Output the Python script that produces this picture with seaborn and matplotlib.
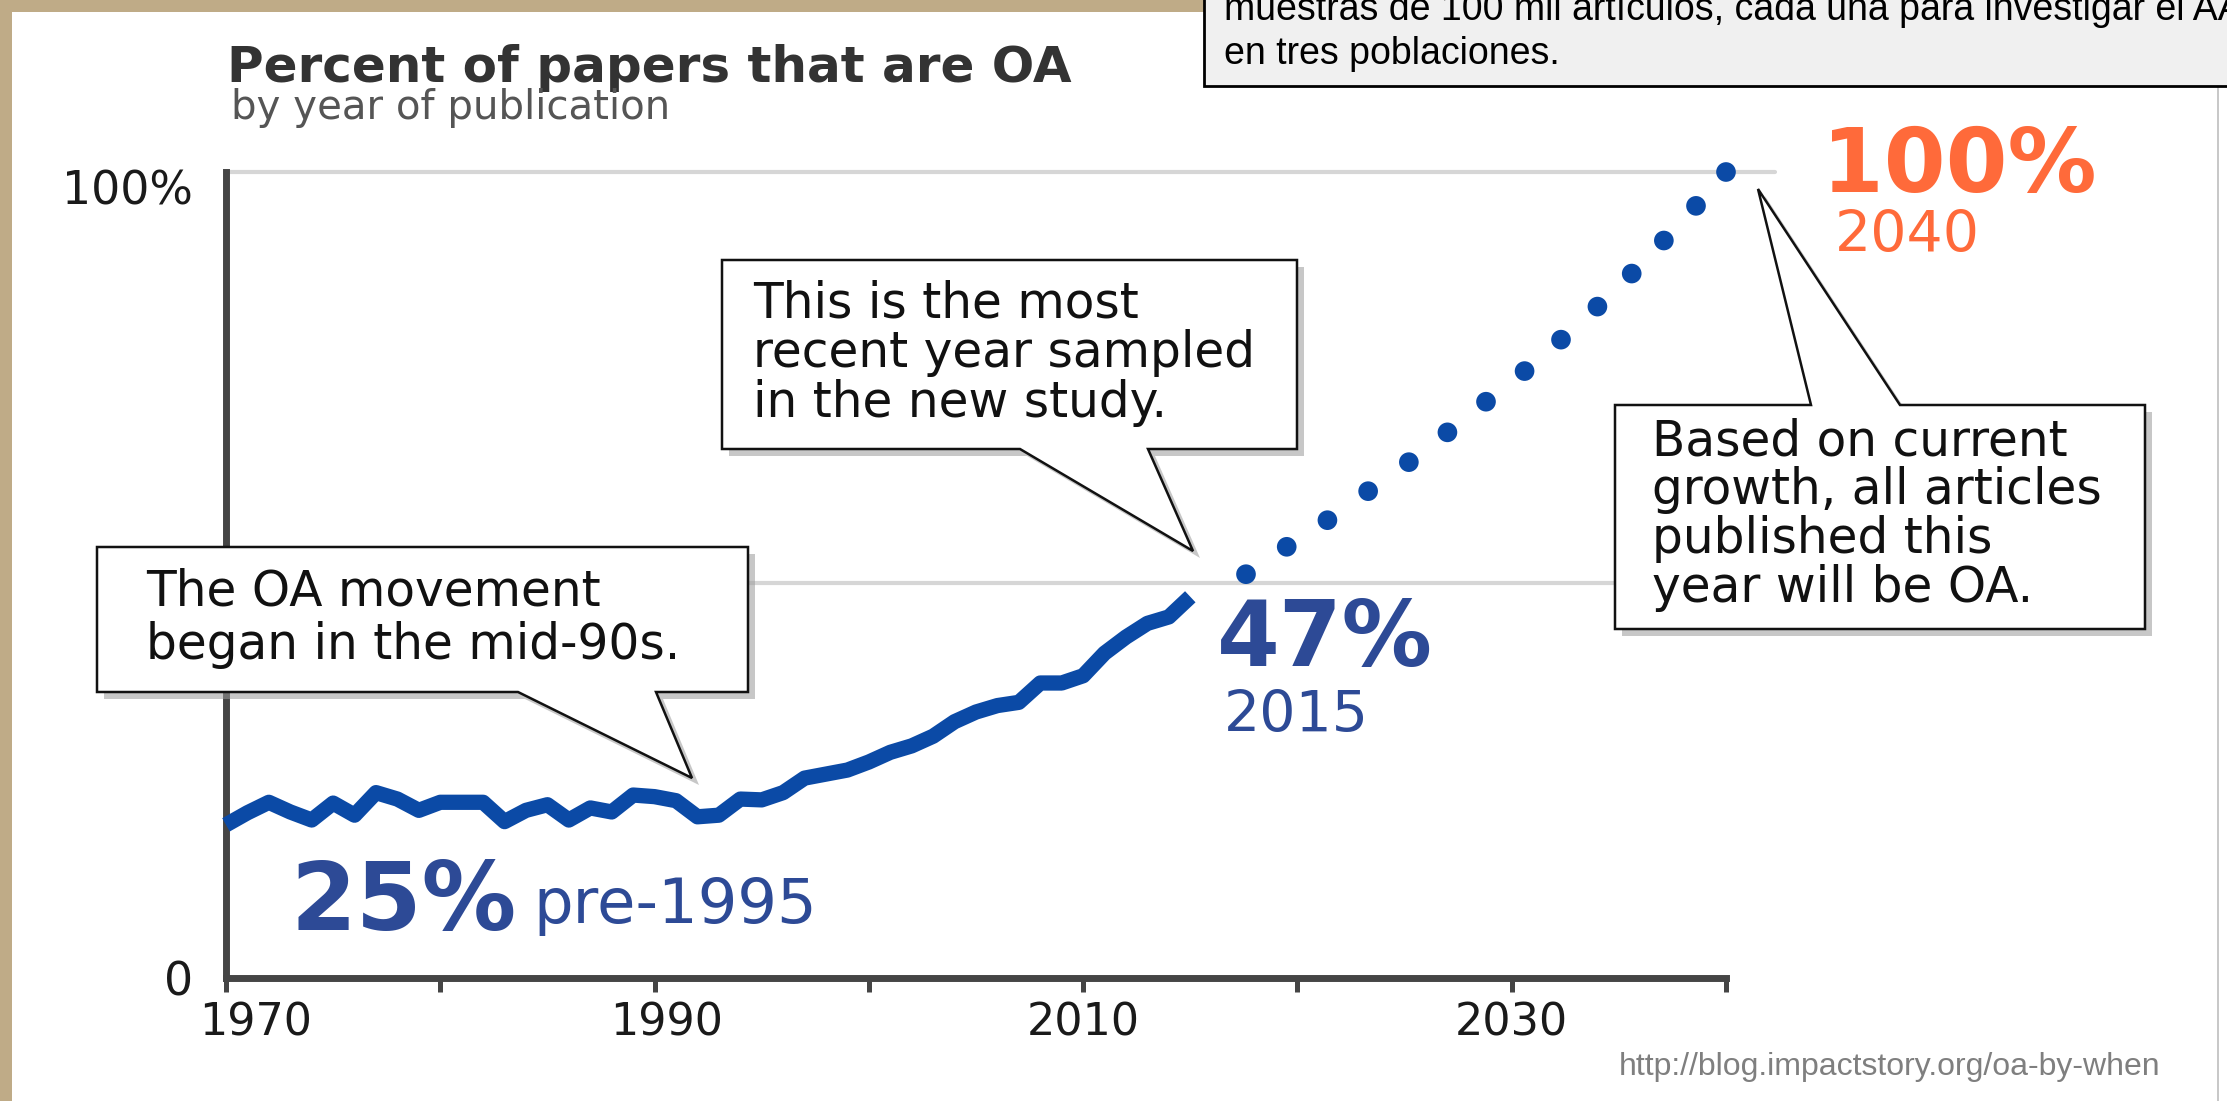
"""
Porcentaje de artículos en acceso abierto (OA) por año de publicación,
con la proyección al 100 % en 2040.
"""
import numpy as np
import pandas as pd
import matplotlib
matplotlib.use('Agg')
import matplotlib.pyplot as plt
from matplotlib.patches import Polygon, Rectangle
from matplotlib.transforms import Affine2D
import seaborn as sns

sns.set_theme(style='white')
plt.rcParams['font.family'] = ['DejaVu Sans']

# ─────────────────────────────────────────────
# Datos
# ─────────────────────────────────────────────
years_obs = list(range(1970, 2016))
pct_obs = [19.0, 20.5, 21.8, 20.6, 19.6, 21.7, 20.2, 23.0, 22.2, 20.8,
           21.8, 21.8, 21.8, 19.4, 20.8, 21.5, 19.6, 21.1, 20.6, 22.7,
           22.5, 22.0, 20.0, 20.2, 22.2, 22.1, 23.0, 24.8, 25.3, 25.8,
           26.8, 28.0, 28.8, 30.0, 31.8, 33.0, 33.8, 34.2, 36.6, 36.6,
           37.5, 40.3, 42.3, 44.0, 44.8, 47.3]

years_proj = [2017.6, 2019.5, 2021.4, 2023.3, 2025.2, 2027.0, 2028.8,
              2030.6, 2032.3, 2034.0, 2035.6, 2037.1, 2038.6, 2040.0]
pct_proj = [50.1, 53.5, 56.8, 60.4, 64.0, 67.7, 71.5,
            75.3, 79.2, 83.3, 87.4, 91.5, 95.8, 100.0]

x_ticks = [1970, 1980, 1990, 2000, 2010, 2020, 2030, 2040]
x_ticklabels = ['1970', '', '1990', '', '2010', '', '2030', '']
y_ticks = [0, 100]
y_ticklabels = ['0', '100%']
ref_lines = [100, 49]          # líneas grises de referencia
ref_line_end = [2042.3, 2036]  # hasta dónde llega cada una

df_obs = pd.DataFrame({'year': years_obs, 'pct': pct_obs})
df_proj = pd.DataFrame({'year': years_proj, 'pct': pct_proj})

BLUE_LINE = '#0b4aa6'
BLUE_TXT = '#2d4a96'
ORANGE = '#ff6a3a'
AXIS = '#454545'

W, H = 2227, 1101
fig = plt.figure(figsize=(W / 100, H / 100), dpi=100)
fig.patch.set_facecolor('#bfab87')
pix = Affine2D().scale(1 / W, -1 / H).translate(0, 1) + fig.transFigure

# panel blanco + borde derecho
fig.patches.append(Rectangle((12, 12), W, H, transform=pix, fc='white', ec='none', zorder=-10))
fig.patches.append(Rectangle((2217, 86), 2, H, transform=pix, fc='#c8c8c8', ec='none', zorder=-9))

ax = fig.add_axes([226 / W, 1 - 978 / H, 1500 / W, 806 / H])
ax.set_facecolor('none')

# líneas de referencia
for yv, xe in zip(ref_lines, ref_line_end):
    ax.axhline(yv, xmin=0, xmax=(xe - 1970) / 70, color='#d6d6d6', lw=3, zorder=1, clip_on=False)

sns.lineplot(data=df_obs, x='year', y='pct', color=BLUE_LINE, linewidth=11, ax=ax,
             zorder=3, clip_on=False, solid_joinstyle='round', solid_capstyle='butt')
sns.scatterplot(data=df_proj, x='year', y='pct', color=BLUE_LINE, s=200, edgecolor='none',
                ax=ax, zorder=3, clip_on=False)

ax.set_xlim(1970, 2040)
ax.set_ylim(0, 100)
ax.set_xlabel('')
ax.set_ylabel('')
for s in ['top', 'right']:
    ax.spines[s].set_visible(False)
for s in ['left', 'bottom']:
    ax.spines[s].set_color(AXIS)
    ax.spines[s].set_linewidth(5)
    ax.spines[s].set_capstyle('projecting')

ax.set_xticks(x_ticks)
ax.set_xticklabels(x_ticklabels)
ax.set_yticks(y_ticks)
ax.set_yticklabels(y_ticklabels)
ax.tick_params(axis='x', bottom=True, direction='out', length=10, width=3.6, color=AXIS,
               labelsize=32, labelcolor='#1a1a1a', pad=7)
ax.tick_params(axis='y', left=False, length=0, labelsize=33, labelcolor='#1a1a1a', pad=24)
lbl100 = ax.get_yticklabels()[1]
lbl100.set_transform(lbl100.get_transform() + Affine2D().translate(0, -15))
lbl1970 = ax.get_xticklabels()[0]
lbl1970.set_transform(lbl1970.get_transform() + Affine2D().translate(30, 0))
lbl1990 = ax.get_xticklabels()[2]
lbl1990.set_transform(lbl1990.get_transform() + Affine2D().translate(12, 0))

# ─────────────────────────────────────────────
# Títulos y etiquetas grandes
# ─────────────────────────────────────────────
fig.text(227, 82, 'Percent of papers that are OA', transform=pix, fontsize=36,
         fontweight='bold', color='#333333', va='baseline')
fig.text(231, 119, 'by year of publication', transform=pix, fontsize=29,
         color='#555555', va='baseline')

fig.text(291, 930, '25%', transform=pix, fontsize=68, fontweight='bold', color=BLUE_TXT, va='baseline')
fig.text(533, 923, 'pre-1995', transform=pix, fontsize=45, color=BLUE_TXT, va='baseline')
fig.text(1217, 666, '47%', transform=pix, fontsize=65, fontweight='bold', color=BLUE_TXT, va='baseline')
fig.text(1224, 732, '2015', transform=pix, fontsize=41, color=BLUE_TXT, va='baseline')
fig.text(1822, 192, '100%', transform=pix, fontsize=64, fontweight='bold', color=ORANGE, va='baseline')
fig.text(1835, 252, '2040', transform=pix, fontsize=41, color=ORANGE, va='baseline')


# ─────────────────────────────────────────────
# Globos de texto
# ─────────────────────────────────────────────
def callout(box, base, tip, lines, text_xy, step, side='bottom'):
    x0, y0, x1, y1 = box
    if side == 'bottom':
        pts = [(x0, y0), (x1, y0), (x1, y1), (base[1], y1), tip, (base[0], y1), (x0, y1)]
    else:
        pts = [(x0, y0), (base[0], y0), tip, (base[1], y0), (x1, y0), (x1, y1), (x0, y1)]
    shadow = [(px + 7, py + 7) for px, py in pts]
    fig.patches.append(Polygon(shadow, closed=True, transform=pix, fc='#9a9a9a', ec='none',
                               alpha=0.55, zorder=4))
    fig.patches.append(Polygon(pts, closed=True, transform=pix, fc='white', ec='#111111',
                               lw=1.8, joinstyle='miter', zorder=5))
    for i, t in enumerate(lines):
        fig.text(text_xy[0], text_xy[1] + i * step, t, transform=pix, fontsize=35,
                 color='#111111', va='center', zorder=6)


callout((97, 547, 748, 692), (518, 656), (692, 778),
        ['The OA movement', 'began in the mid-90s.'], (146, 591), 54)
callout((722, 260, 1297, 449), (1020, 1148), (1193, 551),
        ['This is the most', 'recent year sampled', 'in the new study.'], (753, 303), 50)
callout((1615, 405, 2145, 629), (1811, 1900), (1758, 189),
        ['Based on current', 'growth, all articles', 'published this', 'year will be OA.'],
        (1652, 441), 49, side='top')

# recuadro gris superior (texto recortado del original)
fig.patches.append(Rectangle((1204, -10), 1100, 96, transform=pix, fc='#f0f0f0',
                             ec='black', lw=2, zorder=5))
fig.text(1224, 20, 'muestras de 100 mil artículos, cada una para investigar el AA',
         transform=pix, fontsize=27, family='Liberation Sans', color='black', va='baseline', zorder=6)
fig.text(1224, 64, 'en tres poblaciones.', transform=pix, fontsize=27,
         family='Liberation Sans', color='black', va='baseline', zorder=6)

fig.text(1619, 1075, 'http://blog.impactstory.org/oa-by-when', transform=pix, fontsize=23,
         family='Liberation Sans', color='#7f7f7f', va='baseline')

fig.savefig('out.png', dpi=100)
plt.close(fig)
